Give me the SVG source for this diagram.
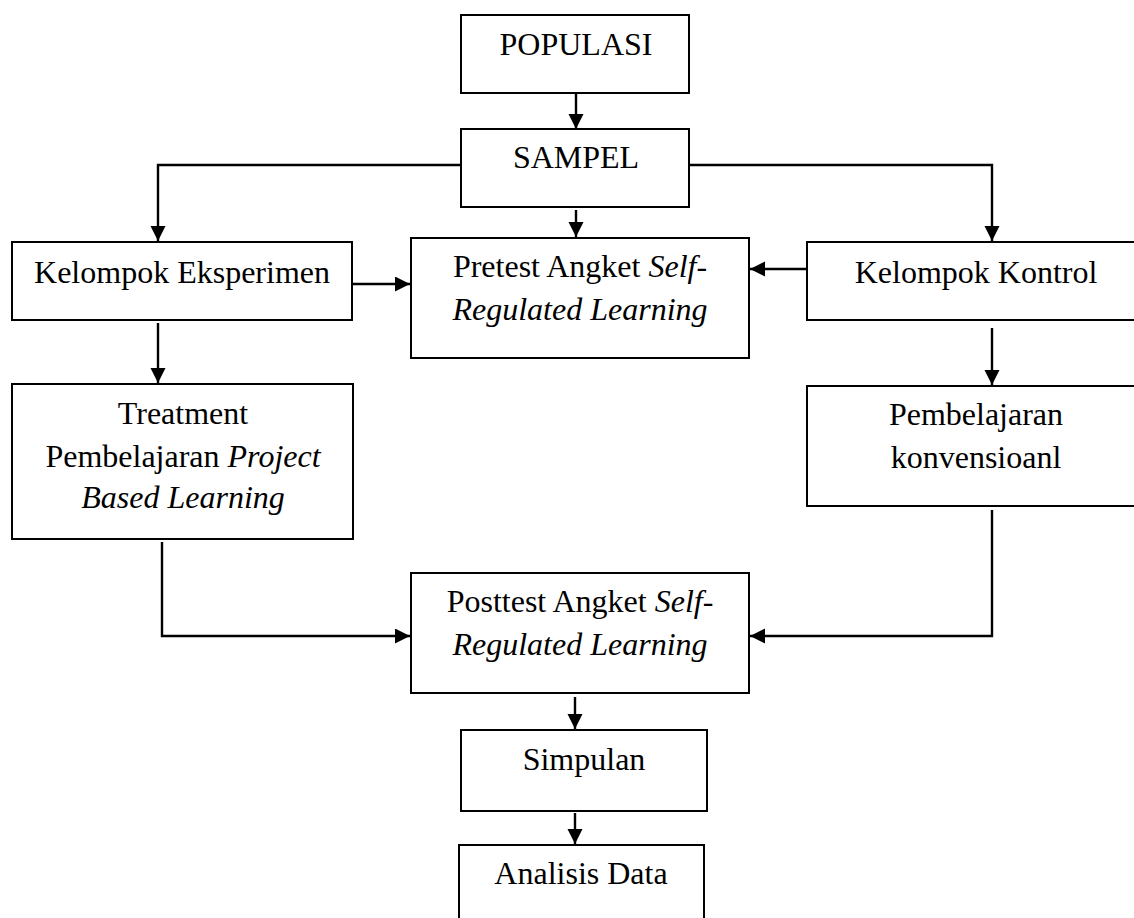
<svg xmlns="http://www.w3.org/2000/svg" width="1134" height="918" viewBox="0 0 1134 918">
<style>
.box{fill:#fff;stroke:#000;stroke-width:2}
.t{font-family:"Liberation Serif","Times New Roman",serif;font-size:32px;fill:#000;text-anchor:middle}
.i{font-style:italic}
.c{fill:none;stroke:#000;stroke-width:2.4}
</style>
<defs>
<marker id="ah" markerWidth="16" markerHeight="16" refX="15" refY="7.5" orient="auto" markerUnits="userSpaceOnUse">
<path d="M0,0 L15,7.5 L0,15 Z" fill="#000"/>
</marker>
</defs>
<rect width="1134" height="918" fill="#fff"/>
<g id="connectors">
<path class="c" d="M576,93 V129" marker-end="url(#ah)"/>
<path class="c" d="M461,165 H158 V241" marker-end="url(#ah)"/>
<path class="c" d="M689,165 H992 V241" marker-end="url(#ah)"/>
<path class="c" d="M576,210 V237" marker-end="url(#ah)"/>
<path class="c" d="M352,284 H410" marker-end="url(#ah)"/>
<path class="c" d="M807,269 H750" marker-end="url(#ah)"/>
<path class="c" d="M158,323 V383" marker-end="url(#ah)"/>
<path class="c" d="M992,328 V385" marker-end="url(#ah)"/>
<path class="c" d="M162,542 V636 H410" marker-end="url(#ah)"/>
<path class="c" d="M992,510 V636 H750" marker-end="url(#ah)"/>
<path class="c" d="M575,697 V729" marker-end="url(#ah)"/>
<path class="c" d="M575,813 V844" marker-end="url(#ah)"/>
</g>
<g id="populasi"><rect class="box" x="461" y="15" width="228" height="78"/><text class="t" x="576" y="55">POPULASI</text></g>
<g id="sampel"><rect class="box" x="461" y="129" width="228" height="78"/><text class="t" x="576" y="168">SAMPEL</text></g>
<g id="eksperimen"><rect class="box" x="12" y="242" width="340" height="78"/><text class="t" x="182" y="283">Kelompok Eksperimen</text></g>
<g id="pretest"><rect class="box" x="411" y="238" width="338" height="120"/><text class="t" x="580" y="277">Pretest Angket <tspan class="i">Self-</tspan></text><text class="t i" x="580" y="320">Regulated Learning</text></g>
<g id="kontrol"><rect class="box" x="807" y="242" width="340" height="78"/><text class="t" x="976" y="283">Kelompok Kontrol</text></g>
<g id="treatment"><rect class="box" x="12" y="384" width="341" height="155"/><text class="t" x="183" y="424">Treatment</text><text class="t" x="183" y="467">Pembelajaran <tspan class="i">Project</tspan></text><text class="t i" x="183" y="508">Based Learning</text></g>
<g id="konvensional"><rect class="box" x="807" y="386" width="340" height="120"/><text class="t" x="976" y="425">Pembelajaran</text><text class="t" x="976" y="468">konvensioanl</text></g>
<g id="posttest"><rect class="box" x="411" y="573" width="338" height="120"/><text class="t" x="580" y="612">Posttest Angket <tspan class="i">Self-</tspan></text><text class="t i" x="580" y="655">Regulated Learning</text></g>
<g id="simpulan"><rect class="box" x="461" y="730" width="246" height="81"/><text class="t" x="584" y="770">Simpulan</text></g>
<g id="analisis"><rect class="box" x="459" y="845" width="245" height="90"/><text class="t" x="581" y="884">Analisis Data</text></g>
</svg>
